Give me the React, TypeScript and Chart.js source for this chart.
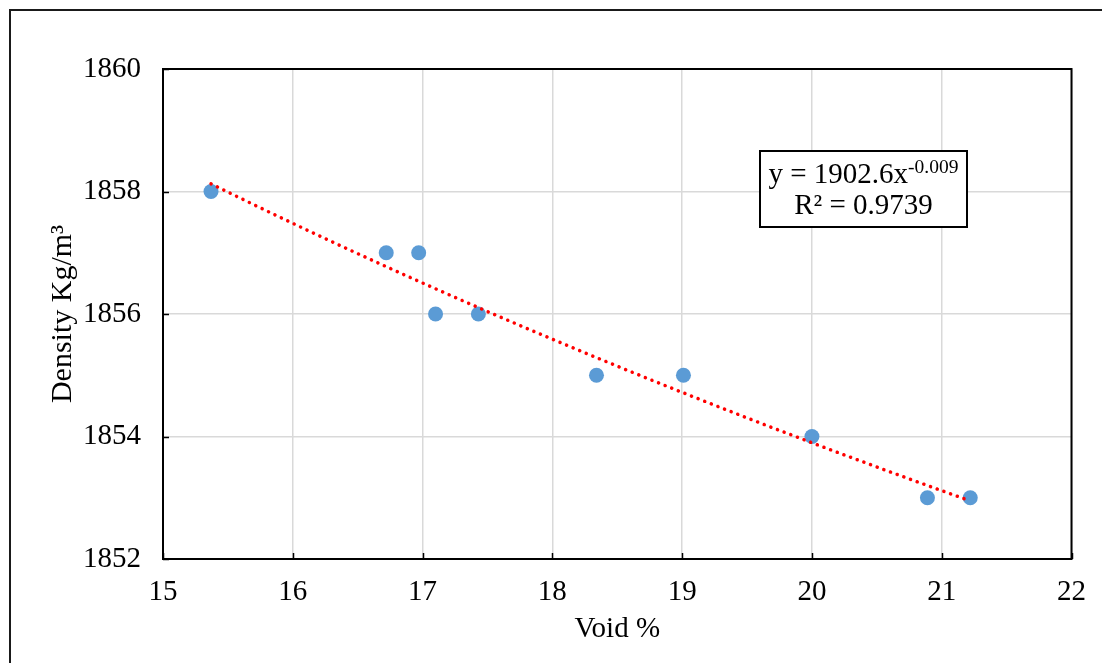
import React, { useEffect, useRef } from 'react';
import { Chart, registerables } from 'chart.js';

Chart.register(...registerables);

// Measured samples: void percentage vs. bulk density
const voidPct = [15.37, 16.72, 16.97, 17.1, 17.43, 18.34, 19.01, 20.0, 20.89, 21.22];
const density = [1858, 1857, 1857, 1856, 1856, 1855, 1855, 1854, 1853, 1853];

// Axis ranges / tick steps
const xRange = [15, 22];
const xStep = 1;
const yRange = [1852, 1860];
const yStep = 2;

// Trendline label text
const eqMain = 'y = 1902.6x';
const eqExponent = '-0.009';
const eqR2 = 'R² = 0.9739';

const xTitle = 'Void %';
const yTitle = 'Density Kg/m³';

const FONT = "'Liberation Serif', 'Times New Roman', serif";

// Least-squares power regression y = a * x^b on the measured points
function powerFit(xs: number[], ys: number[]) {
  const lx = xs.map(Math.log);
  const ly = ys.map(Math.log);
  const n = xs.length;
  const mx = lx.reduce((s, v) => s + v, 0) / n;
  const my = ly.reduce((s, v) => s + v, 0) / n;
  let sxy = 0;
  let sxx = 0;
  for (let i = 0; i < n; i++) {
    sxy += (lx[i] - mx) * (ly[i] - my);
    sxx += (lx[i] - mx) * (lx[i] - mx);
  }
  const b = sxy / sxx;
  const a = Math.exp(my - b * mx);
  return { a, b };
}

function trendPoints() {
  const { a, b } = powerFit(voidPct, density);
  const lo = Math.min(...voidPct);
  const hi = Math.max(...voidPct);
  const steps = 60;
  const pts: { x: number; y: number }[] = [];
  for (let i = 0; i <= steps; i++) {
    const x = lo + ((hi - lo) * i) / steps;
    pts.push({ x, y: a * Math.pow(x, b) });
  }
  return pts;
}

const framePlugin = {
  id: 'frameAndLabel',
  beforeDatasetsDraw(chart: any) {
    const { ctx, chartArea, scales } = chart;
    const { left, top, right, bottom } = chartArea;
    ctx.save();
    // plot border
    ctx.strokeStyle = '#000';
    ctx.lineWidth = 2;
    ctx.strokeRect(left, top, right - left, bottom - top);
    // inner tick marks
    ctx.lineWidth = 1.5;
    ctx.beginPath();
    scales.x.ticks.forEach((t: any) => {
      const px = Math.round(scales.x.getPixelForValue(t.value)) + 0.5;
      ctx.moveTo(px, bottom);
      ctx.lineTo(px, bottom - 6);
    });
    scales.y.ticks.forEach((t: any) => {
      const py = Math.round(scales.y.getPixelForValue(t.value)) + 0.5;
      ctx.moveTo(left, py);
      ctx.lineTo(left + 6, py);
    });
    ctx.stroke();
    ctx.restore();
  },
  afterDraw(chart: any) {
    const { ctx } = chart;
    ctx.save();
    // outer chart frame
    ctx.strokeStyle = '#1a1a1a';
    ctx.lineWidth = 2;
    ctx.beginPath();
    ctx.moveTo(10, 663);
    ctx.lineTo(10, 10);
    ctx.lineTo(1102, 10);
    ctx.stroke();

    // equation box
    const bx = 760, by = 151, bw = 207, bh = 76;
    ctx.fillStyle = '#fff';
    ctx.fillRect(bx, by, bw, bh);
    ctx.strokeStyle = '#000';
    ctx.lineWidth = 2;
    ctx.strokeRect(bx, by, bw, bh);

    const cx = bx + bw / 2;
    ctx.fillStyle = '#000';
    ctx.textBaseline = 'alphabetic';
    ctx.textAlign = 'left';
    ctx.font = `29px ${FONT}`;
    const wMain = ctx.measureText(eqMain).width;
    ctx.font = `19.5px ${FONT}`;
    const wExp = ctx.measureText(eqExponent).width;
    const startX = cx - (wMain + wExp) / 2;
    ctx.font = `29px ${FONT}`;
    ctx.fillText(eqMain, startX, 183);
    ctx.font = `19.5px ${FONT}`;
    ctx.fillText(eqExponent, startX + wMain, 173);
    ctx.font = `29px ${FONT}`;
    ctx.textAlign = 'center';
    ctx.fillText(eqR2, cx, 214);
    ctx.restore();
  },
};

export default function App() {
  const canvasRef = useRef<HTMLCanvasElement | null>(null);

  useEffect(() => {
    document.body.style.margin = '0';
    const canvas = canvasRef.current;
    if (!canvas) return;

    const chart = new Chart(canvas, {
      type: 'scatter',
      data: {
        datasets: [
          {
            label: 'Trend',
            type: 'line',
            data: trendPoints(),
            borderColor: '#ff0000',
            borderWidth: 3.5,
            borderDash: [0.1, 7],
            borderCapStyle: 'round',
            pointRadius: 0,
            fill: false,
            tension: 0,
            order: 1,
          },
          {
            label: 'Density',
            data: voidPct.map((x, i) => ({ x, y: density[i] })),
            backgroundColor: '#5b9bd5',
            borderColor: '#5b9bd5',
            borderWidth: 0,
            pointRadius: 7.5,
            showLine: false,
            order: 2,
          },
        ],
      },
      options: {
        animation: false,
        responsive: false,
        maintainAspectRatio: false,
        layout: { padding: { top: 69, right: 29, left: 0, bottom: 0 } },
        plugins: {
          legend: { display: false },
          tooltip: { enabled: false },
        },
        scales: {
          x: {
            type: 'linear',
            min: xRange[0],
            max: xRange[1],
            ticks: {
              stepSize: xStep,
              padding: 16,
              color: '#000',
              font: { family: FONT, size: 29 },
              callback: (v: any) => String(v),
            },
            grid: { color: '#d9d9d9', lineWidth: 1.5, drawTicks: false },
            border: { display: false },
            title: {
              display: true,
              text: xTitle,
              color: '#000',
              font: { family: FONT, size: 29 },
              padding: { top: 0, bottom: 16 },
            },
            afterFit(scale: any) {
              scale.height = 104;
            },
          },
          y: {
            type: 'linear',
            min: yRange[0],
            max: yRange[1],
            ticks: {
              stepSize: yStep,
              padding: 22,
              color: '#000',
              font: { family: FONT, size: 29 },
              callback: (v: any) => String(v),
            },
            grid: { color: '#d9d9d9', lineWidth: 1.5, drawTicks: false },
            border: { display: false },
            title: {
              display: true,
              text: yTitle,
              color: '#000',
              font: { family: FONT, size: 30 },
              padding: { top: 45, bottom: 0 },
            },
            afterFit(scale: any) {
              scale.width = 163;
            },
          },
        },
      },
      plugins: [framePlugin],
    });

    return () => chart.destroy();
  }, []);

  return (
    <div style={{ position: 'relative', width: 1102, height: 663, background: '#fff' }}>
      <canvas ref={canvasRef} width={1102} height={663} style={{ display: 'block' }} />
    </div>
  );
}
